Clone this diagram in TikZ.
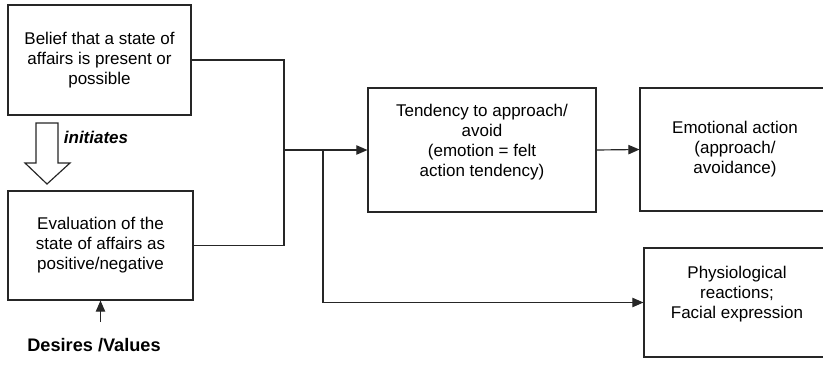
\documentclass[tikz,border=0pt]{standalone}
\usepackage{fontspec}
\setmainfont{Liberation Sans}
\usetikzlibrary{arrows.meta}

\begin{document}
\begin{tikzpicture}[x=0.03cm,y=-0.03cm,
  box/.style={draw=black!85,line width=0.9pt,align=center,inner sep=0pt,
    font=\fontsize{14.5}{17}\selectfont},
  link/.style={draw=black!85,line width=1pt},
  arrow/.style={link,-{Triangle[length=9.5pt,width=8pt]}}]
\useasboundingbox (0,0) rectangle (823,365);

% Draw boxes
\node[box,minimum width=5.49cm,minimum height=3.3cm] (belief) at (99.5,60)
  {Belief that a state of\\affairs is present or\\possible};
\node[box,minimum width=5.55cm,minimum height=3.27cm] (eval) at (100.5,245.5)
  {Evaluation of the\\state of affairs as\\positive/negative};
\node[box,minimum width=6.84cm,minimum height=3.72cm] (tend) at (482,150)
  {Tendency to approach/\\avoid\\(emotion = felt\\action tendency)\\\mbox{}};
\node[box,minimum width=5.7cm,minimum height=3.69cm] (emo) at (735,149.5)
  {Emotional action\\(approach/\\avoidance)};
\node[box,minimum width=5.58cm,minimum height=3.27cm] (phys) at (737,302.5)
  {Physiological\\reactions;\\Facial expression\\\mbox{}};

% Add labels
\node[font=\fontsize{14.5}{17}\selectfont\bfseries\itshape] (init) at (96,137) {initiates};
\node[font=\fontsize{15.5}{18}\selectfont\bfseries,inner sep=0pt] (desires) at (94,345) {Desires /Values};

% Draw hollow arrow
\draw[link,fill=white] (36,123) -- (58,123) -- (58,163) -- (70,163) -- (47,184)
  -- (25,163) -- (36,163) -- cycle;

% Draw connections
\coordinate (join) at (284,150);
\coordinate (split) at (323,150);
\coordinate (dtop) at (100.5,322);
\draw[link] (belief.east) -| (join) |- (eval.east);
\draw[arrow] (join) -- (tend.west);
\draw[arrow] (split) |- (phys.west);
\draw[arrow] (tend.east) -- (emo.west);
\draw[arrow] (dtop) -- (eval.south);
\end{tikzpicture}
\end{document}
